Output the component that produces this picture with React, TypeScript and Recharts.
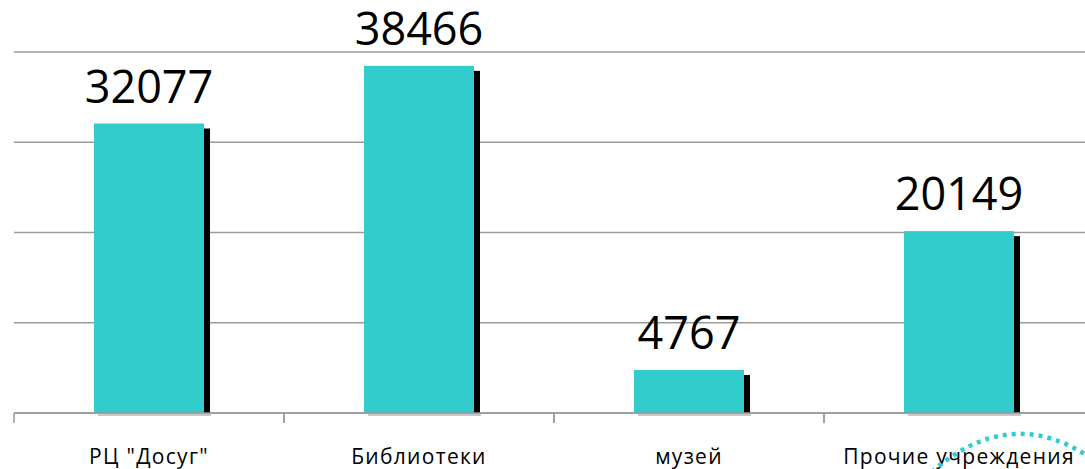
import { Bar, BarChart, CartesianGrid, LabelList, XAxis, YAxis } from "recharts";

const categories = ['РЦ "Досуг"', "Библиотеки", "музей", "Прочие учреждения"];
const visitors = [32077, 38466, 4767, 20149];
const yTicks = [0, 10000, 20000, 30000, 40000];

const data = categories.map((name, i) => ({ name, value: visitors[i] }));

const CHART_W = 1094;
const CHART_H = 469;
const MARGIN = { top: 52, right: 0, left: 14, bottom: 0 };
const HALF_BAND = (CHART_W - MARGIN.left - MARGIN.right) / categories.length / 2;
const CYAN = "#33CCCC";
const GRID = "#9a9a9a";

// bar with a hard black drop shadow, like the old office chart
const ShadowBar = (props: any) => {
  const { x, y, width, height } = props;
  if (!height) return null;
  return (
    <g>
      <rect x={x + 4} y={y + height} width={width + 3} height={3} fill="#c8c8c8" />
      <rect x={x + 6} y={y + 5} width={width} height={height - 5} fill="#000" />
      <rect x={x} y={y} width={width} height={height} fill={CYAN} />
    </g>
  );
};

const CategoryTick = (props: any) => {
  const { x, y, payload } = props;
  const top = y - 8; // back to the axis line
  return (
    <g>
      <line x1={x - HALF_BAND} y1={top} x2={x - HALF_BAND} y2={top + 10} stroke={GRID} strokeWidth={1.5} />
      <line x1={x + HALF_BAND} y1={top} x2={x + HALF_BAND} y2={top + 10} stroke={GRID} strokeWidth={1.5} />
      <text
        x={x}
        y={top + 51}
        textAnchor="middle"
        fontSize={21}
        letterSpacing={1.3}
        fill="#000"
      >
        {payload.value}
      </text>
    </g>
  );
};

export default function App() {
  return (
    <div
      style={{
        position: "absolute",
        left: 0,
        top: 0,
        width: 1085,
        height: CHART_H,
        overflow: "hidden",
        background: "#fff",
        fontFamily: "'Open Sans', sans-serif",
      }}
    >
      <BarChart width={CHART_W} height={CHART_H} data={data} margin={MARGIN}>
        <CartesianGrid vertical={false} stroke={GRID} strokeWidth={1.5} />
        <XAxis
          dataKey="name"
          axisLine={{ stroke: GRID, strokeWidth: 1.5 }}
          tickLine={false}
          tick={<CategoryTick />}
          interval={0}
          height={56}
        />
        <YAxis hide domain={[0, 40000]} ticks={yTicks} />
        <Bar dataKey="value" barSize={110} shape={<ShadowBar />} isAnimationActive={false}>
          <LabelList dataKey="value" position="top" offset={21} fontSize={45} fill="#000" />
        </Bar>
      </BarChart>
      <svg
        width={1085}
        height={CHART_H}
        style={{ position: "absolute", left: 0, top: 0, pointerEvents: "none" }}
      >
        <path
          d="M 925 478 Q 1010 398 1098 463"
          fill="none"
          stroke={CYAN}
          strokeWidth={4.5}
          strokeDasharray="4 5"
        />
      </svg>
    </div>
  );
}
